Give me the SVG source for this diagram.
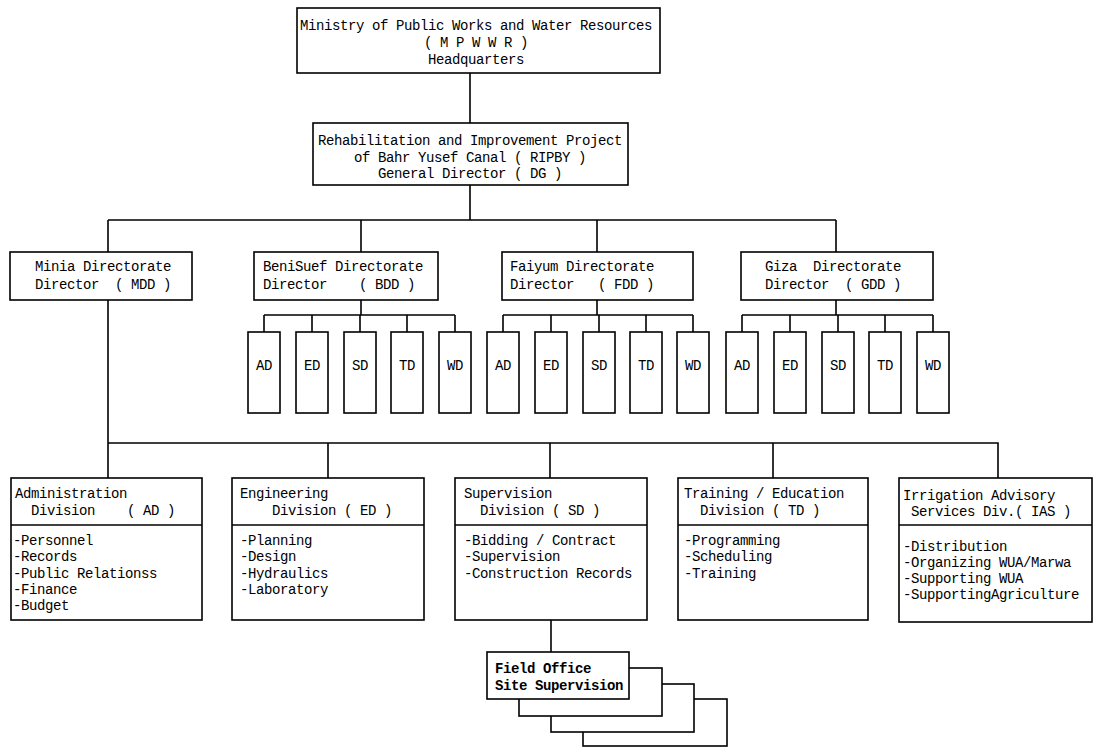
<svg xmlns="http://www.w3.org/2000/svg" width="1094" height="748" viewBox="0 0 1094 748" xml:space="preserve">
<style>
.b{fill:#fff;stroke:#000;stroke-width:1.6}
.l{fill:none;stroke:#000;stroke-width:1.6}
text{font-family:"Liberation Mono","DejaVu Sans Mono",monospace;font-size:14px;letter-spacing:-0.4px;fill:#000;white-space:pre}
.c{text-anchor:middle}
.f{font-weight:bold}
</style>
<rect width="1094" height="748" fill="#fff"/>
<g id="connectors" class="l">
<path d="M470 73V123M470 185V220M108 220H836M108 220V252M361 220V252M597 220V252M836 220V252"/>
<path d="M361 300V315M264 315H455M264 315V332M312 315V332M360 315V332M407 315V332M455 315V332"/>
<path d="M597 300V315M503 315H693M503 315V332M551 315V332M599 315V332M646 315V332M693 315V332"/>
<path d="M836 300V315M742 315H933M742 315V332M790 315V332M838 315V332M885 315V332M933 315V332"/>
<path d="M108 300V478M108 443H998V478M328 443V478M550 443V478M773 443V478"/>
<path d="M551 620V652"/>
</g>
<g id="ministry"><rect class="b" x="297" y="8" width="363" height="65"/>
<text class="c" x="476" y="30">Ministry of Public Works and Water Resources</text>
<text class="c" x="476" y="47">( M P W W R )</text>
<text class="c" x="476" y="64">Headquarters</text></g>
<g id="dg"><rect class="b" x="313" y="123" width="315" height="62"/>
<text class="c" x="470" y="145">Rehabilitation and Improvement Project</text>
<text class="c" x="470" y="162">of Bahr Yusef Canal ( RIPBY )</text>
<text class="c" x="470" y="178">General Director ( DG )</text></g>
<g id="minia"><rect class="b" x="10" y="252" width="182" height="48"/>
<text x="35" y="271">Minia Directorate</text><text x="35" y="289">Director  ( MDD )</text></g>
<g id="benisuef"><rect class="b" x="254" y="252" width="184" height="48"/>
<text x="263" y="271">BeniSuef Directorate</text><text x="263" y="289">Director    ( BDD )</text></g>
<g id="faiyum"><rect class="b" x="502" y="252" width="191" height="48"/>
<text x="510" y="271">Faiyum Directorate</text><text x="510" y="289">Director   ( FDD )</text></g>
<g id="giza"><rect class="b" x="741" y="252" width="192" height="48"/>
<text x="765" y="271">Giza  Directorate</text><text x="765" y="289">Director  ( GDD )</text></g>
<g id="bdd-units">
<rect class="b" x="248" y="332" width="32" height="81"/><text class="c" x="264" y="370">AD</text>
<rect class="b" x="296" y="332" width="32" height="81"/><text class="c" x="312" y="370">ED</text>
<rect class="b" x="344" y="332" width="32" height="81"/><text class="c" x="360" y="370">SD</text>
<rect class="b" x="391" y="332" width="32" height="81"/><text class="c" x="407" y="370">TD</text>
<rect class="b" x="439" y="332" width="32" height="81"/><text class="c" x="455" y="370">WD</text></g>
<g id="fdd-units">
<rect class="b" x="487" y="332" width="32" height="81"/><text class="c" x="503" y="370">AD</text>
<rect class="b" x="535" y="332" width="32" height="81"/><text class="c" x="551" y="370">ED</text>
<rect class="b" x="583" y="332" width="32" height="81"/><text class="c" x="599" y="370">SD</text>
<rect class="b" x="630" y="332" width="32" height="81"/><text class="c" x="646" y="370">TD</text>
<rect class="b" x="677" y="332" width="32" height="81"/><text class="c" x="693" y="370">WD</text></g>
<g id="gdd-units">
<rect class="b" x="726" y="332" width="32" height="81"/><text class="c" x="742" y="370">AD</text>
<rect class="b" x="774" y="332" width="32" height="81"/><text class="c" x="790" y="370">ED</text>
<rect class="b" x="822" y="332" width="32" height="81"/><text class="c" x="838" y="370">SD</text>
<rect class="b" x="869" y="332" width="32" height="81"/><text class="c" x="885" y="370">TD</text>
<rect class="b" x="917" y="332" width="32" height="81"/><text class="c" x="933" y="370">WD</text></g>
<g id="ad"><rect class="b" x="11" y="478" width="191" height="142"/><path class="l" d="M11 525H202"/>
<text x="15" y="498">Administration</text><text x="15" y="515">  Division    ( AD )</text>
<text x="13" y="545">-Personnel</text><text x="13" y="561">-Records</text><text x="13" y="578">-Public Relationss</text><text x="13" y="594">-Finance</text><text x="13" y="610">-Budget</text></g>
<g id="ed"><rect class="b" x="232" y="478" width="192" height="142"/><path class="l" d="M232 525H424"/>
<text x="240" y="498">Engineering</text><text x="240" y="515">    Division ( ED )</text>
<text x="240" y="545">-Planning</text><text x="240" y="561">-Design</text><text x="240" y="578">-Hydraulics</text><text x="240" y="594">-Laboratory</text></g>
<g id="sd"><rect class="b" x="455" y="478" width="192" height="142"/><path class="l" d="M455 525H647"/>
<text x="464" y="498">Supervision</text><text x="464" y="515">  Division ( SD )</text>
<text x="464" y="545">-Bidding / Contract</text><text x="464" y="561">-Supervision</text><text x="464" y="578">-Construction Records</text></g>
<g id="td"><rect class="b" x="678" y="478" width="190" height="142"/><path class="l" d="M678 525H868"/>
<text x="684" y="498">Training / Education</text><text x="684" y="515">  Division ( TD )</text>
<text x="684" y="545">-Programming</text><text x="684" y="561">-Scheduling</text><text x="684" y="578">-Training</text></g>
<g id="ias"><rect class="b" x="899" y="478" width="193" height="144"/><path class="l" d="M899 525H1092"/>
<text x="903" y="500">Irrigation Advisory</text><text x="903" y="516"> Services Div.( IAS )</text>
<text x="903" y="551">-Distribution</text><text x="903" y="567">-Organizing WUA/Marwa</text><text x="903" y="583">-Supporting WUA</text><text x="903" y="599">-SupportingAgriculture</text></g>
<g id="field-office">
<rect class="b" x="583" y="699" width="144" height="47"/>
<rect class="b" x="551" y="684" width="143" height="48"/>
<rect class="b" x="519" y="668" width="143" height="48"/>
<rect class="b" x="487" y="652" width="142" height="47"/>
<text class="f" x="495" y="673">Field Office</text><text class="f" x="495" y="690">Site Supervision</text></g>
</svg>
